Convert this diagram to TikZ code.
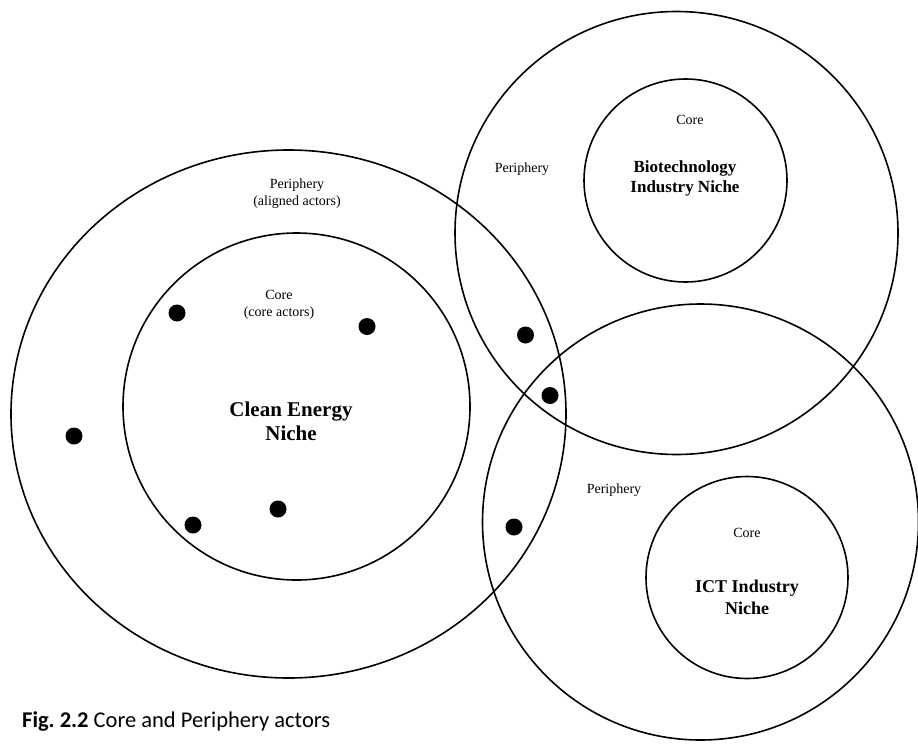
\documentclass[tikz,border=0pt]{standalone}
\usepackage{fontspec}
\setmainfont{Liberation Serif}
\newfontfamily\capfont{Carlito}
\usetikzlibrary{positioning}

\begin{document}
\begin{tikzpicture}[x=1pt, y=-1pt,
    every node/.style={font=\fontsize{14}{17}\selectfont, inner sep=0pt, align=center},
    ring/.style={line width=1.6pt},
    actor/.style={circle, fill=black, minimum size=17pt, inner sep=0pt},
    niche/.style 2 args={font=\bfseries\fontsize{#1}{#2}\selectfont, align=center}]
    \useasboundingbox (0,0) rectangle (918,744);

    % clean energy niche
    \draw[ring] (288.5,414) ellipse [x radius=277.5pt, y radius=264pt];
    \draw[ring] (296.5,406.5) circle (173.5pt);
    \node (ceperi) at (297,194) {Periphery\\(aligned actors)};
    \node (cecore) at (279,304.5) {Core\\(core actors)};
    \node[niche={21}{24}] (ceniche) at (291,421) {Clean Energy\\Niche};

    % biotechnology niche
    \draw[ring] (676.5,233) circle (221.5pt);
    \draw[ring] (685.5,180.5) circle (101.5pt);
    \node (btperi) at (522,169) {Periphery};
    \node (btcore) at (690,120) {Core};
    \node[niche={17}{20}] (btniche) at (685,178) {Biotechnology\\Industry Niche};

    % ict niche
    \draw[ring] (700.5,522) circle (218pt);
    \draw[ring] (747,577.5) circle (101pt);
    \node (ictperi) at (614,490) {Periphery};
    \node (ictcore) at (747,533) {Core};
    \node[niche={18}{22}] (ictniche) at (747,597) {ICT Industry\\Niche};

    % actors
    \node[actor] (a1) at (177,313) {};
    \node[actor] (a2) at (367,326.5) {};
    \node[actor] (a3) at (74,436) {};
    \node[actor] (a4) at (193,525) {};
    \node[actor] (a5) at (278,509) {};
    \node[actor] (a6) at (525.5,335) {};
    \node[actor] (a7) at (550,395.5) {};
    \node[actor] (a8) at (514,527) {};

    \node[anchor=west] (caption) at (22,722)
        {\capfont\fontsize{22.5}{26}\selectfont\textbf{Fig.\ 2.2} Core and Periphery actors};
\end{tikzpicture}
\end{document}
